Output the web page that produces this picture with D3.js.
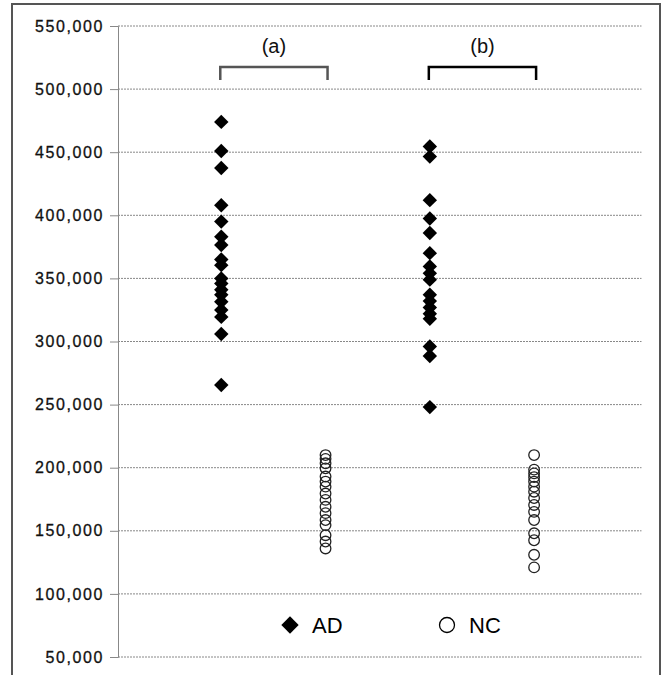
<!DOCTYPE html>
<html>
<head>
<meta charset="utf-8">
<script src="https://cdn.jsdelivr.net/npm/d3@7"></script>
<style>
  body { margin: 0; background: #fff; }
  text { font-family: Arial, "Liberation Sans", sans-serif; }
</style>
</head>
<body>
<svg width="667" height="675"></svg>
<script>
// values in thousands
var adA = [474, 451, 437.5, 408, 395, 383, 376.5, 365, 360.5, 350, 346, 341, 337, 331.5, 325, 319.5, 306, 265.5];
var ncA = [210, 207, 203.5, 199.5, 193, 189, 185, 179.5, 174.5, 169, 164, 158.5, 154.5, 146.5, 141.5, 136];
var adB = [454.5, 446.5, 412, 397.5, 386, 370, 359.5, 354, 349, 337, 332, 327, 322, 318, 296, 288.5, 248];
var ncB = [210, 198.5, 195.5, 192.5, 189, 185, 181, 176, 170.5, 165, 158.5, 148, 142.5, 131, 121];
var groups = ["(a)", "(b)"];
var yTicks = [50000, 100000, 150000, 200000, 250000, 300000, 350000, 400000, 450000, 500000, 550000];

var svg = d3.select("svg");

// outer frame
svg.append("path")
  .attr("d", "M12,680 L12,4 L660,4 L660,680")
  .attr("fill", "none")
  .attr("stroke", "#555")
  .attr("stroke-width", 2);

var x = d3.scaleLinear().domain([0, 5.03]).range([117, 641.5]);
var y = d3.scaleLinear().domain([50000, 550000]).range([657, 26]);

// gridlines
svg.append("g")
  .selectAll("line")
  .data(yTicks)
  .enter()
  .append("line")
  .attr("x1", 118)
  .attr("x2", x(5.03))
  .attr("y1", function (d) { return y(d); })
  .attr("y2", function (d) { return y(d); })
  .attr("stroke", "#888")
  .attr("stroke-width", 1)
  .attr("stroke-dasharray", "2,1");

var yAxis = svg.append("g")
  .attr("transform", "translate(118,0)")
  .call(d3.axisLeft(y).tickValues(yTicks).tickSize(8).tickPadding(6).tickFormat(d3.format(",")));
yAxis.select(".domain").attr("stroke", "#888");
yAxis.selectAll(".tick line").attr("stroke", "#888");
yAxis.selectAll(".tick text")
  .attr("font-size", "16px")
  .attr("letter-spacing", "1.6px")
  .attr("stroke", "#111")
  .attr("stroke-width", 0.3)
  .attr("fill", "#111")
  .attr("font-family", "Arial, 'Liberation Sans', sans-serif");

// group brackets and labels
var bracketColor = ["#555", "#000"];
groups.forEach(function (g, i) {
  var x1 = x(1 + i * 2) - 1, x2 = x(2 + i * 2) + 2;
  svg.append("path")
    .attr("d", "M" + x1 + ",80 L" + x1 + ",67 L" + x2 + ",67 L" + x2 + ",80")
    .attr("fill", "none")
    .attr("stroke", bracketColor[i])
    .attr("stroke-width", 2.5);
  svg.append("text")
    .attr("x", (x1 + x2) / 2)
    .attr("y", 53)
    .attr("text-anchor", "middle")
    .attr("font-size", "20px")
    .attr("fill", "#111")
    .text(g);
});

var diamond = d3.symbol().type(d3.symbolSquare).size(104);

function drawAD(vals, pos) {
  svg.append("g")
    .selectAll("path")
    .data(vals)
    .enter()
    .append("path")
    .attr("d", diamond)
    .attr("transform", function (d) {
      return "translate(" + x(pos) + "," + y(d * 1000) + ") rotate(45)";
    })
    .attr("fill", "#000");
}

function drawNC(vals, pos) {
  svg.append("g")
    .selectAll("circle")
    .data(vals)
    .enter()
    .append("circle")
    .attr("cx", x(pos))
    .attr("cy", function (d) { return y(d * 1000); })
    .attr("r", 5.3)
    .attr("fill", "none")
    .attr("stroke", "#222")
    .attr("stroke-width", 1.3);
}

drawAD(adA, 1);
drawNC(ncA, 2);
drawAD(adB, 3);
drawNC(ncB, 4);

// legend
svg.append("path")
  .attr("d", d3.symbol().type(d3.symbolSquare).size(150))
  .attr("transform", "translate(290,625) rotate(45)")
  .attr("fill", "#000");
svg.append("text")
  .attr("x", 312)
  .attr("y", 633)
  .attr("font-size", "22px")
  .attr("fill", "#000")
  .text("AD");
svg.append("circle")
  .attr("cx", 447)
  .attr("cy", 625)
  .attr("r", 7.5)
  .attr("fill", "none")
  .attr("stroke", "#000")
  .attr("stroke-width", 1.3);
svg.append("text")
  .attr("x", 469)
  .attr("y", 633)
  .attr("font-size", "22px")
  .attr("fill", "#000")
  .text("NC");
</script>
</body>
</html>
